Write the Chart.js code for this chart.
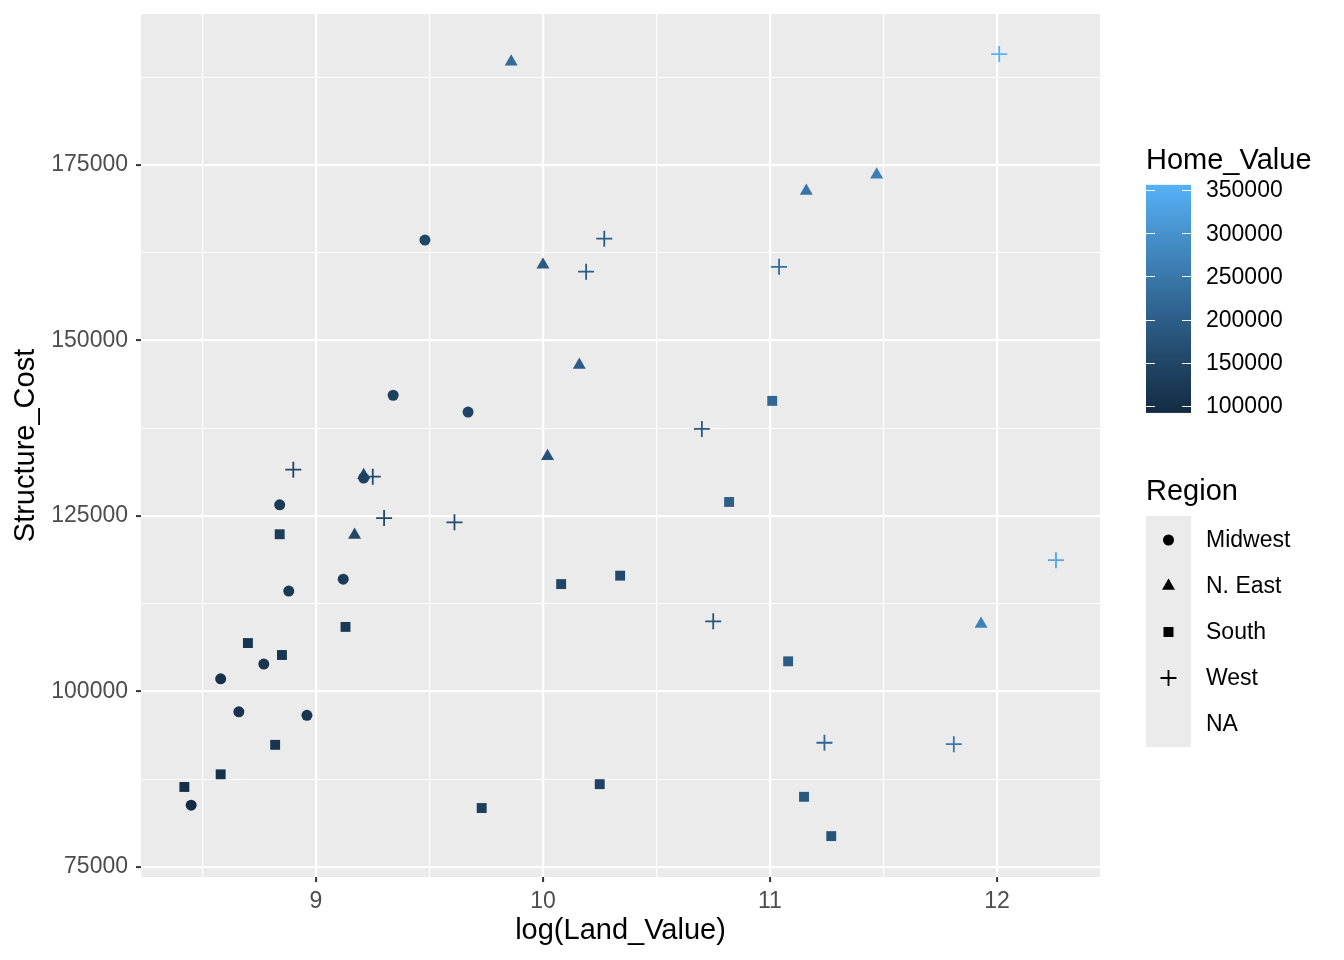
<!DOCTYPE html>
<html lang="en">
<head>
<meta charset="UTF-8">
<title>Structure_Cost vs log(Land_Value)</title>
<script src="https://cdn.jsdelivr.net/npm/chart.js@4.4.1/dist/chart.umd.min.js"></script>
<style>
  body { margin: 0; background: #fff; }
  #wrap { width: 1344px; height: 960px; }
</style>
</head>
<body>
<div id="wrap"><canvas id="myChart" width="1344" height="960"></canvas></div>
<script>
// data
const midwestX = [8.45, 8.58, 8.66, 8.77, 8.84, 8.88, 8.96, 9.12, 9.21, 9.34, 9.48, 9.67];
const midwestY = [83800, 101800, 97100, 103900, 126600, 114300, 96600, 116000, 130400, 142200, 164300, 139800];
const midwestHome = [92000, 105000, 110000, 115000, 125000, 120000, 118000, 128000, 140000, 140000, 150000, 145000];

const neastX = [9.86, 10.00, 10.16, 10.02, 9.21, 9.17, 11.16, 11.47, 11.93];
const neastY = [189700, 160800, 146500, 133500, 130800, 122300, 171300, 173600, 109600];
const neastHome = [225000, 195000, 200000, 175000, 160000, 155000, 245000, 265000, 270000];

const southX = [8.42, 8.58, 8.70, 8.82, 8.84, 8.85, 9.13, 9.73, 10.08, 10.25, 10.34, 10.82, 11.01, 11.08, 11.15, 11.27];
const southY = [86400, 88200, 106900, 92400, 122400, 105200, 109200, 83400, 115300, 86800, 116500, 127000, 141400, 104300, 85000, 79400];
const southHome = [100000, 105000, 115000, 112000, 130000, 118000, 125000, 135000, 150000, 145000, 160000, 200000, 215000, 195000, 185000, 180000];

const westX = [8.90, 9.25, 9.30, 9.61, 10.19, 10.27, 10.70, 10.75, 11.04, 11.24, 11.81, 12.01, 12.26];
const westY = [131600, 130600, 124700, 124100, 159800, 164500, 137400, 110000, 160500, 92700, 92500, 190800, 118700];
const westHome = [150000, 160000, 155000, 165000, 195000, 195000, 185000, 180000, 230000, 215000, 250000, 356000, 335000];

const regions = ['Midwest', 'N. East', 'South', 'West', 'NA'];
const xMajor = [9, 10, 11, 12];
const xMinor = [8.5, 9.5, 10.5, 11.5];
const yMajor = [75000, 100000, 125000, 150000, 175000];
const yMinor = [87500, 112500, 137500, 162500, 187500];
const homeTicks = [100000, 150000, 200000, 250000, 300000, 350000];
const homeMin = 92000, homeMax = 356000;

// gradient #132B43 -> #56B1F7 interpolated in CIELAB, like ggplot
function toLin(c) { c /= 255; return c <= 0.04045 ? c / 12.92 : Math.pow((c + 0.055) / 1.055, 2.4); }
function fromLin(c) { c = c <= 0.0031308 ? 12.92 * c : 1.055 * Math.pow(c, 1 / 2.4) - 0.055; return Math.round(Math.max(0, Math.min(1, c)) * 255); }
const WX = 0.95047, WY = 1, WZ = 1.08883;
function rgb2lab(rgb) {
    const [r, g, b] = rgb.map(toLin);
    const X = (0.4124 * r + 0.3576 * g + 0.1805 * b) / WX;
    const Y = (0.2126 * r + 0.7152 * g + 0.0722 * b) / WY;
    const Z = (0.0193 * r + 0.1192 * g + 0.9505 * b) / WZ;
    const f = t => t > 0.008856 ? Math.cbrt(t) : 7.787 * t + 16 / 116;
    return [116 * f(Y) - 16, 500 * (f(X) - f(Y)), 200 * (f(Y) - f(Z))];
}
function lab2rgb(lab) {
    const fy = (lab[0] + 16) / 116, fx = fy + lab[1] / 500, fz = fy - lab[2] / 200;
    const fi = t => t > 0.206893 ? t * t * t : (t - 16 / 116) / 7.787;
    const X = fi(fx) * WX, Y = fi(fy) * WY, Z = fi(fz) * WZ;
    const r = 3.2406 * X - 1.5372 * Y - 0.4986 * Z;
    const g = -0.9689 * X + 1.8758 * Y + 0.0415 * Z;
    const b = 0.0557 * X - 0.2040 * Y + 1.0570 * Z;
    return [fromLin(r), fromLin(g), fromLin(b)];
}
const lowLab = rgb2lab([19, 43, 67]), highLab = rgb2lab([86, 177, 247]);
function homeColor(v) {
    let t = (v - homeMin) / (homeMax - homeMin);
    t = Math.max(0, Math.min(1, t));
    const lab = lowLab.map((l, i) => l + (highLab[i] - l) * t);
    return 'rgb(' + lab2rgb(lab).join(',') + ')';
}

function toPoints(xs, ys, hs) {
    return xs.map((x, i) => ({ x: x, y: ys[i], v: hs[i] }));
}

const pointColor = ctx => ctx.raw ? homeColor(ctx.raw.v) : '#000';

const datasets = [
    { label: 'Midwest', data: toPoints(midwestX, midwestY, midwestHome), pointStyle: 'circle', pointRadius: 5.5 },
    { label: 'N. East', data: toPoints(neastX, neastY, neastHome), pointStyle: 'triangle', pointRadius: 7.5 },
    { label: 'South', data: toPoints(southX, southY, southHome), pointStyle: 'rect', pointRadius: 7 },
    { label: 'West', data: toPoints(westX, westY, westHome), pointStyle: 'cross', pointRadius: 8, pointBorderWidth: 1.8 }
].map(d => Object.assign({
    pointBackgroundColor: pointColor,
    pointBorderColor: pointColor,
    pointBorderWidth: d.pointBorderWidth || 0,
    showLine: false
}, d));

const isMajorX = v => xMajor.includes(v);
const isMajorY = v => yMajor.includes(v);

const FONT = '"Liberation Sans", Arial, sans-serif';

const panelBg = {
    id: 'panelBg',
    beforeDraw(chart) {
        const a = chart.chartArea, c = chart.ctx;
        c.save();
        c.fillStyle = '#EBEBEB';
        c.fillRect(a.left, a.top, a.right - a.left, a.bottom - a.top);
        c.restore();
    }
};

function drawShape(c, style, x, y, color) {
    c.fillStyle = color;
    c.strokeStyle = color;
    c.beginPath();
    if (style === 'circle') {
        c.arc(x, y, 5.5, 0, Math.PI * 2);
        c.fill();
    } else if (style === 'triangle') {
        const r = 7.5;
        c.moveTo(x, y - r);
        c.lineTo(x + r * Math.sin(Math.PI / 3), y + r / 2);
        c.lineTo(x - r * Math.sin(Math.PI / 3), y + r / 2);
        c.closePath();
        c.fill();
    } else if (style === 'rect') {
        c.fillRect(x - 5, y - 5, 10, 10);
    } else if (style === 'cross') {
        c.lineWidth = 1.8;
        c.moveTo(x - 8, y); c.lineTo(x + 8, y);
        c.moveTo(x, y - 8); c.lineTo(x, y + 8);
        c.stroke();
    }
}

const extras = {
    id: 'extras',
    afterDraw(chart) {
        const c = chart.ctx, a = chart.chartArea;
        c.save();
        // axis titles
        c.fillStyle = '#000';
        c.font = '29px ' + FONT;
        c.textAlign = 'center';
        c.textBaseline = 'middle';
        c.fillText('log(Land_Value)', (a.left + a.right) / 2, 931);
        c.save();
        c.translate(26, (a.top + a.bottom) / 2);
        c.rotate(-Math.PI / 2);
        c.fillText('Structure_Cost', 0, 0);
        c.restore();

        // colour bar legend
        const bx = 1146, bw = 45;
        const vy = v => 406 - (v - 100000) / 250000 * 216;
        c.textAlign = 'left';
        c.textBaseline = 'alphabetic';
        c.fillText('Home_Value', bx, 169);
        const top = vy(homeMax), bot = vy(homeMin);
        const g = c.createLinearGradient(0, bot, 0, top);
        for (let i = 0; i <= 20; i++) {
            g.addColorStop(i / 20, homeColor(homeMin + (homeMax - homeMin) * i / 20));
        }
        c.fillStyle = g;
        c.fillRect(bx, top, bw, bot - top);
        c.strokeStyle = '#fff';
        c.lineWidth = 1;
        c.font = '23px ' + FONT;
        c.textBaseline = 'middle';
        homeTicks.forEach(v => {
            const y = Math.round(vy(v)) + 0.5;
            c.beginPath();
            c.moveTo(bx, y); c.lineTo(bx + 9, y);
            c.moveTo(bx + bw - 9, y); c.lineTo(bx + bw, y);
            c.stroke();
            c.fillStyle = '#000';
            c.fillText(String(v), 1206, vy(v) + 1);
        });

        // shape legend
        c.font = '29px ' + FONT;
        c.textBaseline = 'alphabetic';
        c.fillText('Region', bx, 500);
        c.fillStyle = '#EBEBEB';
        c.fillRect(bx, 516, bw, 231);
        const styles = ['circle', 'triangle', 'rect', 'cross', null];
        c.font = '23px ' + FONT;
        c.textBaseline = 'middle';
        regions.forEach((r, i) => {
            const y = 540 + i * 46;
            if (styles[i]) drawShape(c, styles[i], bx + bw / 2, y, '#000');
            c.fillStyle = '#000';
            c.fillText(r, 1206, y + 1);
        });
        c.restore();
    }
};

const tickFont = { family: FONT, size: 23, lineHeight: 1 };

new Chart(document.getElementById('myChart'), {
    type: 'scatter',
    data: { datasets: datasets },
    plugins: [panelBg, extras],
    options: {
        responsive: false,
        animation: false,
        events: [],
        devicePixelRatio: 1,
        layout: { padding: { top: 14, right: 244, left: 0, bottom: 0 } },
        plugins: { legend: { display: false }, tooltip: { enabled: false } },
        scales: {
            x: {
                type: 'linear',
                min: 8.229,
                max: 12.454,
                afterBuildTicks: s => { s.ticks = xMinor.concat(xMajor).sort((p, q) => p - q).map(v => ({ value: v })); },
                afterFit: s => { s.height = 83; s.paddingLeft = 0; s.paddingRight = 0; },
                border: { display: false },
                grid: {
                    color: '#FFFFFF',
                    lineWidth: ctx => ctx.tick && isMajorX(ctx.tick.value) ? 2.2 : 1.1,
                    tickColor: ctx => ctx.tick && isMajorX(ctx.tick.value) ? '#333333' : 'rgba(0,0,0,0)',
                    tickLength: 5,
                    tickWidth: 2
                },
                ticks: {
                    color: '#4D4D4D',
                    font: tickFont,
                    padding: 8,
                    maxRotation: 0,
                    autoSkip: false,
                    callback: v => isMajorX(v) ? String(v) : ''
                }
            },
            y: {
                type: 'linear',
                min: 73575,
                max: 196510,
                afterBuildTicks: s => { s.ticks = yMinor.concat(yMajor).sort((p, q) => p - q).map(v => ({ value: v })); },
                afterFit: s => { s.width = 141; s.paddingTop = 0; s.paddingBottom = 0; },
                border: { display: false },
                grid: {
                    color: '#FFFFFF',
                    lineWidth: ctx => ctx.tick && isMajorY(ctx.tick.value) ? 2.2 : 1.1,
                    tickColor: ctx => ctx.tick && isMajorY(ctx.tick.value) ? '#333333' : 'rgba(0,0,0,0)',
                    tickLength: 5,
                    tickWidth: 2
                },
                ticks: {
                    color: '#4D4D4D',
                    font: tickFont,
                    padding: 8,
                    autoSkip: false,
                    callback: v => isMajorY(v) ? String(v) : ''
                }
            }
        }
    }
});
</script>
</body>
</html>
